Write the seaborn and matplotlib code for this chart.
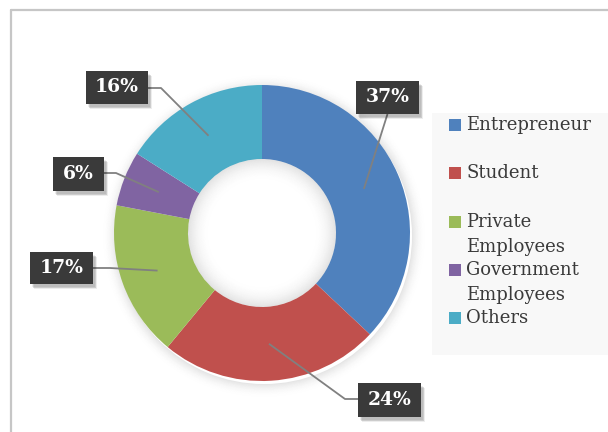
import numpy as np
import matplotlib
matplotlib.use("Agg")
import matplotlib.pyplot as plt
import seaborn as sns
from matplotlib.patches import Rectangle, Circle, Wedge

# ---- data ----
categories = ["Entrepreneur", "Student", "Private\nEmployees", "Government\nEmployees", "Others"]
shares = [37, 24, 17, 6, 16]
pct_labels = ["37%", "24%", "17%", "6%", "16%"]
colors = ["#4F81BD", "#C0504D", "#9BBB59", "#8064A2", "#4BACC6"]

# ---- layout (pixels, origin top-left) ----
W, H = 608, 432
CX, CY = 262, 233
R_OUT, RING = 148, 74
box_centers = [(387.5, 97.5), (389.5, 400), (61.5, 268), (78.5, 174), (117, 87.5)]
box_sizes = [(63, 33), (63, 34), (63, 32), (51, 34), (62, 33)]
elbows = [None, (345, 399), (110, 268), (116, 173), (161, 88)]

sns.set_theme(style="white")
plt.rcParams['font.family'] = ['DejaVu Serif']
palette = sns.color_palette(colors)

fig = plt.figure(figsize=(W / 100, H / 100), dpi=100)
ax = fig.add_axes([0, 0, 1, 1])

def Y(y):
    return H - y

# soft shadow behind donut (annular bands fading outward)
for d in range(14):
    a = 0.10 * (1 - d / 14) ** 2
    ax.add_patch(Wedge((CX + 2, Y(CY) - 3), R_OUT + d + 1, 0, 360, width=1.0,
                       color="black", alpha=a, lw=0, zorder=1))

wedges, _ = ax.pie(shares, colors=palette, startangle=90, counterclock=False,
                   radius=R_OUT, center=(CX, Y(CY)),
                   wedgeprops=dict(width=RING, edgecolor="none", zorder=2))
# soft inner shading of the hole, fading toward its centre
R_IN = R_OUT - RING
for d in range(22):
    a = 0.11 * (1 - d / 22) ** 2
    ax.add_patch(Wedge((CX, Y(CY)), R_IN - d, 0, 360, width=1.0,
                       color="black", alpha=a, lw=0, zorder=3))

ax.set_xlim(0, W)
ax.set_ylim(0, H)
ax.set_aspect("equal")
ax.axis("off")

# labels with leader lines
cum = np.cumsum([0] + shares[:-1])
r_mid = R_OUT - RING / 2
for i, v in enumerate(shares):
    ang = np.deg2rad(90 - (cum[i] + v / 2) * 3.6)
    ax_pt = (CX + r_mid * np.cos(ang), Y(CY) + r_mid * np.sin(ang))
    bx, by = box_centers[i]
    bw, bh = box_sizes[i]
    if elbows[i] is None:
        pts = [ax_pt, (bx, Y(by + bh / 2))]
    else:
        ex, ey = elbows[i]
        edge_x = bx - bw / 2 if ex < bx else bx + bw / 2
        pts = [ax_pt, (ex, Y(ey)), (edge_x, Y(ey))]
    xs, ys = zip(*pts)
    ax.plot(xs, ys, color="#808080", lw=1.3, zorder=4, solid_capstyle="butt")
    for k in range(4):
        ax.add_patch(Rectangle((bx - bw / 2 + 2 + k * 0.7, Y(by + bh / 2) - 3 - k * 0.7), bw, bh,
                               fc="black", alpha=0.07, lw=0, zorder=5))
    ax.add_patch(Rectangle((bx - bw / 2, Y(by + bh / 2)), bw, bh,
                           fc="#3a3a3a", ec="none", zorder=6))
    ax.text(bx, Y(by), pct_labels[i], ha="center", va="center", color="white",
            fontsize=13.5, fontweight="bold", zorder=7)

# legend
ax.add_patch(Rectangle((432, Y(355)), W - 432, 242, fc="#f8f8f8", ec="none", zorder=1))
y0, step, line_h = 125, 48.3, 25
for i, (cat, col) in enumerate(zip(categories, palette)):
    yy = y0 + i * step
    ax.add_patch(Rectangle((449, Y(yy) - 6), 12, 12, fc=col, ec="none", zorder=6))
    for k, line in enumerate(cat.split("\n")):
        ax.text(466, Y(yy + k * line_h), line, ha="left", va="center",
                color="#3a3a3a", fontsize=13, zorder=7)

# border
ax.plot([11, 11], [0, Y(9.5)], color="#c6c6c6", lw=1.6, zorder=8)
ax.plot([11, W], [Y(9.5), Y(9.5)], color="#c6c6c6", lw=1.6, zorder=8)

fig.savefig("out.png", dpi=100)
